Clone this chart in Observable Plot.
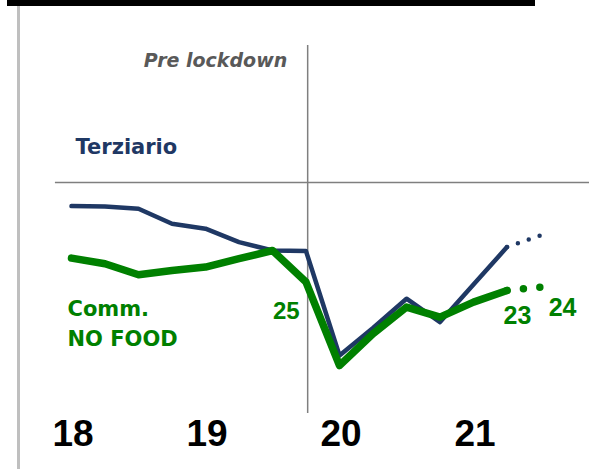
<!DOCTYPE html>
<html><head><meta charset="utf-8">
<script src="https://cdn.jsdelivr.net/npm/d3@7"></script>
<script src="https://cdn.jsdelivr.net/npm/@observablehq/plot@0.6"></script>
<style>
html,body{margin:0;padding:0;background:#fff;overflow:hidden;}
#wrap{position:relative;width:589px;height:469px;}
#bar{position:absolute;left:7px;top:0;width:528px;height:6px;background:#000;}
#edge{position:absolute;left:17px;top:6px;width:3px;height:463px;background:#bfbfbf;}
</style></head><body>
<div id="wrap"><div id="chart"></div><div id="bar"></div><div id="edge"></div></div>
<script>
// Quarter index: 0 = 2018 Q1 ... 13 = 2021 Q2, 14 = 2021 Q3 (projection)
const quarters = [0,1,2,3,4,5,6,7,8,9,10,11,12,13];
const terziario = [88.2, 88.0, 86.9, 79.4, 76.9, 70.2, 66.0, 65.7, 13.5, 27.3, 41.9, 30.2, 49.0, 67.7];
const commNoFood = [62.2, 59.4, 53.9, 56.0, 57.7, 61.9, 66.0, 50.2, 8.5, 24.4, 37.7, 32.7, 40.2, 46.0];
const projQuarters = [13, 14];
const terziarioProj = [67.7, 73.5];
const commNoFoodProj = [46.0, 47.7];
const yearTicks = [0, 4, 8, 12];
const yearLabels = ["18", "19", "20", "21"];
const lockdownQuarter = 7.05;
const seriesNames = ["Terziario", "Comm.\nNO FOOD"];
const valueLabels = ["25", "23", "24"];
const lockdownLabel = "Pre lockdown";

const navy = "#1f3864", green = "#008000", gray = "#7f7f7f";
const toRows = (xs, ys) => xs.map((q, i) => ({q, v: ys[i]}));
const fam = "DejaVu Sans";
const numFam = "Liberation Sans";

const chart = Plot.plot({
  width: 589, height: 469,
  marginLeft: 71, marginRight: 49, marginTop: 182, marginBottom: 87,
  x: {domain: [0, 14], label: null},
  y: {domain: [0, 100], axis: null, label: null},
  style: {background: "transparent"},
  marks: [
    Plot.ruleY([{y: 100, x1: -0.48, x2: 15.5}], {y: "y", x1: "x1", x2: "x2", stroke: gray, strokeWidth: 1.5}),
    Plot.ruleX([{x: lockdownQuarter, y1: 168.5, y2: -15.5}], {x: "x", y1: "y1", y2: "y2", stroke: gray, strokeWidth: 1.5}),
    Plot.line(toRows(quarters, terziario), {x: "q", y: "v", stroke: navy, strokeWidth: 4.5, strokeLinecap: "round", strokeLinejoin: "round"}),
    Plot.line(toRows(projQuarters, terziarioProj), {x: "q", y: "v", stroke: navy, strokeWidth: 4.5, strokeLinecap: "round", strokeDasharray: "0,11.5"}),
    Plot.line(toRows(quarters, commNoFood), {x: "q", y: "v", stroke: green, strokeWidth: 7.5, strokeLinecap: "round", strokeLinejoin: "round"}),
    Plot.line(toRows(projQuarters, commNoFoodProj), {x: "q", y: "v", stroke: green, strokeWidth: 7.5, strokeLinecap: "round", strokeDasharray: "0,16.5"}),
    Plot.text([lockdownLabel], {x: 6.44, y: 157.65, textAnchor: "end", lineAnchor: "bottom", fontSize: 19, fontWeight: "bold", fontStyle: "italic", fontFamily: fam, fill: "#595959"}),
    Plot.text([seriesNames[0]], {x: 0.12, y: 114.35, textAnchor: "start", lineAnchor: "bottom", fontSize: 21, fontWeight: "bold", fontFamily: fam, fill: navy}),
    Plot.text([seriesNames[1]], {x: -0.12, y: 18.15, textAnchor: "start", lineAnchor: "bottom", lineHeight: 1.43, fontSize: 21, fontWeight: "bold", fontFamily: fam, fill: green}),
    Plot.text([valueLabels[0]], {x: 6.81, y: 31.85, textAnchor: "end", lineAnchor: "bottom", fontSize: 24, fontWeight: "bold", fontFamily: numFam, fill: green}),
    Plot.text([valueLabels[1]], {x: 13.31, y: 29.35, textAnchor: "middle", lineAnchor: "bottom", fontSize: 25, fontWeight: "bold", fontFamily: numFam, fill: green}),
    Plot.text([valueLabels[2]], {x: 14.66, y: 33.5, textAnchor: "middle", lineAnchor: "bottom", fontSize: 25, fontWeight: "bold", fontFamily: numFam, fill: green}),
    Plot.axisX(yearTicks, {tickFormat: d => yearLabels[yearTicks.indexOf(d)], tickSize: 0, tickPadding: 37.5, dx: 1.5, fontSize: 37, fontWeight: "bold", fontFamily: numFam, fill: "#000", label: null})
  ]
});
document.getElementById("chart").appendChild(chart);
</script>
</body></html>
